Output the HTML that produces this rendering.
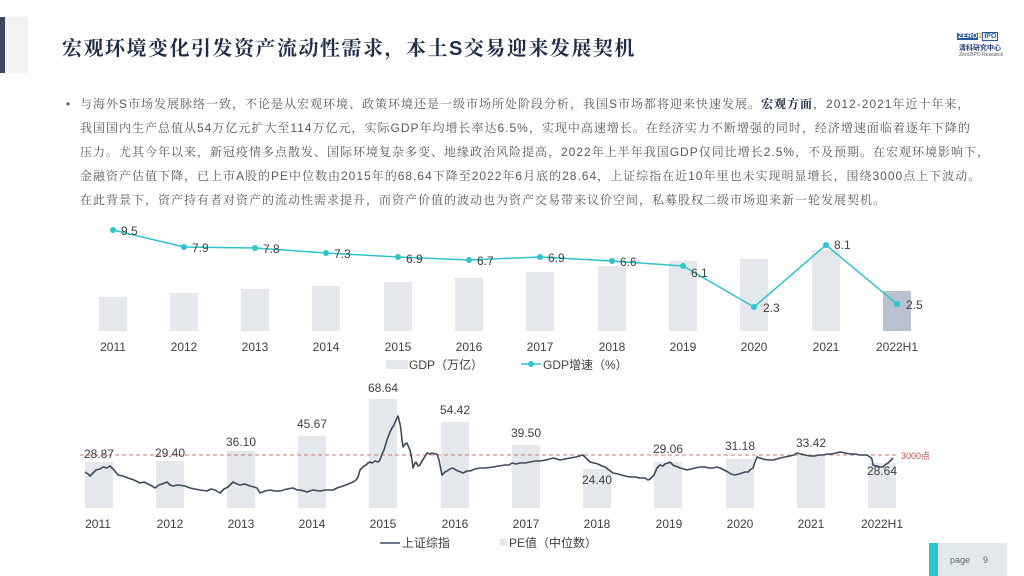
<!DOCTYPE html>
<html><head><meta charset="utf-8"><style>
body{margin:0;width:1024px;height:576px;background:#fff;position:relative;overflow:hidden;font-family:"Liberation Sans","Noto Sans CJK SC",sans-serif}
.t{position:absolute;white-space:nowrap}
.p{position:absolute;left:80px;font-size:12px;letter-spacing:1px;color:#595959;white-space:nowrap;font-family:"Liberation Sans","Noto Serif CJK SC",serif}
</style></head><body>
<div style="position:absolute;left:0;top:17px;width:28px;height:56px;background:#f2f2f2"></div>
<div style="position:absolute;left:0;top:17px;width:5px;height:56px;background:#3b4a5e"></div>
<div class="t" style="left:62px;top:32px;font-size:20px;letter-spacing:1.5px;font-weight:bold;color:#1f2d47;font-family:'Liberation Sans','Noto Serif CJK SC',serif">宏观环境变化引发资产流动性需求，本土S交易迎来发展契机</div>
<div class="t" style="left:957px;top:32px;font-size:7px;font-weight:bold;line-height:9px"><span style="background:#2c5aa0;color:#fff;padding:0 1px">ZERO</span><span style="color:#e8a000">2</span><span style="border:1px solid #2c5aa0;color:#2c5aa0;padding:0 1px">IPO</span></div>
<div class="t" style="left:959px;top:43px;font-size:7px;color:#1f3a7a;font-weight:bold">清科研究中心</div>
<div class="t" style="left:959px;top:52px;font-size:5px;color:#555">Zero2IPO Research</div>

<div class="t" style="left:66px;top:97px;font-size:12px;color:#595959">•</div>
<div class="p" style="top:95px">与海外S市场发展脉络一致，不论是从宏观环境、政策环境还是一级市场所处阶段分析，我国S市场都将迎来快速发展。<b style="color:#1f2d47">宏观方面</b>，2012-2021年近十年来，</div>
<div class="p" style="top:119px">我国国内生产总值从54万亿元扩大至114万亿元，实际GDP年均增长率达6.5%，实现中高速增长。在经济实力不断增强的同时，经济增速面临着逐年下降的</div>
<div class="p" style="top:143px">压力。尤其今年以来，新冠疫情多点散发、国际环境复杂多变、地缘政治风险提高，2022年上半年我国GDP仅同比增长2.5%，不及预期。在宏观环境影响下，</div>
<div class="p" style="top:167px">金融资产估值下降，已上市A股的PE中位数由2015年的68.64下降至2022年6月底的28.64，上证综指在近10年里也未实现明显增长，围绕3000点上下波动。</div>
<div class="p" style="top:191px">在此背景下，资产持有者对资产的流动性需求提升，而资产价值的波动也为资产交易带来议价空间，私募股权二级市场迎来新一轮发展契机。</div>

<svg width="1024" height="576" style="position:absolute;left:0;top:0" font-family="Liberation Sans, Noto Sans CJK SC, sans-serif">
<g fill="#e4e8ec">
<rect x="99" y="297" width="28" height="34"/><rect x="170" y="293" width="28" height="38"/><rect x="241" y="289" width="28" height="42"/><rect x="312" y="286" width="28" height="45"/><rect x="384" y="282" width="28" height="49"/><rect x="455" y="278" width="28" height="53"/><rect x="526" y="272" width="28" height="59"/><rect x="598" y="266" width="28" height="65"/><rect x="669" y="261" width="28" height="70"/><rect x="740" y="259" width="28" height="72"/><rect x="812" y="250" width="28" height="81"/>
</g>
<rect x="883" y="291" width="28" height="40" fill="#b8c1cf"/>
<polyline fill="none" stroke="#2ec4cc" stroke-width="1.5" points="113,230 184,247 255,248 326,253 398,257 469,260 540,257 612,261 683,266 754,307 826,245 897,304"/>
<g fill="#2ec4cc"><circle cx="113" cy="230" r="3"/><circle cx="184" cy="247" r="3"/><circle cx="255" cy="248" r="3"/><circle cx="326" cy="253" r="3"/><circle cx="398" cy="257" r="3"/><circle cx="469" cy="260" r="3"/><circle cx="540" cy="257" r="3"/><circle cx="612" cy="261" r="3"/><circle cx="683" cy="266" r="3"/><circle cx="754" cy="307" r="3"/><circle cx="826" cy="245" r="3"/><circle cx="897" cy="304" r="3"/></g>
<g font-size="12" fill="#404040">
<text x="121" y="235">9.5</text><text x="192" y="252">7.9</text><text x="263" y="253">7.8</text><text x="334" y="258">7.3</text><text x="406" y="263">6.9</text><text x="477" y="265">6.7</text><text x="548" y="262">6.9</text><text x="620" y="266">6.6</text><text x="691" y="277">6.1</text><text x="763" y="312">2.3</text><text x="834" y="249">8.1</text><text x="906" y="309">2.5</text>
</g>
<g font-size="12" fill="#404040" text-anchor="middle">
<text x="113" y="351">2011</text><text x="184" y="351">2012</text><text x="255" y="351">2013</text><text x="326" y="351">2014</text><text x="398" y="351">2015</text><text x="469" y="351">2016</text><text x="540" y="351">2017</text><text x="612" y="351">2018</text><text x="683" y="351">2019</text><text x="754" y="351">2020</text><text x="826" y="351">2021</text><text x="897" y="351">2022H1</text>
</g>
<rect x="386" y="360" width="22" height="9" fill="#e4e8ec"/>
<text x="409" y="369" font-size="12" fill="#404040">GDP（万亿）</text>
<line x1="521" y1="364" x2="541" y2="364" stroke="#2ec4cc" stroke-width="1.5"/><circle cx="531" cy="364" r="3" fill="#2ec4cc"/>
<text x="543" y="369" font-size="12" fill="#404040">GDP增速（%）</text>

<g fill="#e4e8ec">
<rect x="85" y="462" width="28" height="46"/><rect x="156" y="461" width="28" height="47"/><rect x="227" y="451" width="28" height="57"/><rect x="298" y="436" width="28" height="72"/><rect x="369" y="399" width="28" height="109"/><rect x="441" y="422" width="28" height="86"/><rect x="512" y="445" width="28" height="63"/><rect x="583" y="469" width="28" height="39"/><rect x="654" y="462" width="28" height="46"/><rect x="726" y="459" width="28" height="49"/><rect x="797" y="455" width="28" height="53"/><rect x="868" y="463" width="28" height="45"/>
</g>
<line x1="80" y1="455" x2="897" y2="455" stroke="#c0504d" stroke-width="0.8" stroke-dasharray="4,3"/>
<text x="901" y="459" font-size="9" fill="#c0504d">3000点</text>
<polyline fill="none" stroke="#3d4a5c" stroke-width="1.6" stroke-linejoin="round" points="85,472 88,474 90,476 93,473 96,470 100,469 103,467 107,468 110,466 114,470 118,475 123,476 128,478 134,480 140,483 144,482 148,484 152,486 155,488 159,485 162,484 167,482 170,485 173,486 178,485 185,486 190,488 195,489 200,490 207,491 211,489 215,490 220,493 224,489 228,487 233,482 237,484 240,485 245,484 250,486 254,487 257,488 260,493 265,491 270,490 275,491 280,491 287,489 293,488 297,490 300,490 304,491 307,492 313,490 320,491 326,490 333,490 337,488 340,487 346,485 353,482 356,480 358,477 360,470 362,468 364,466 366,465 368,463 370,462 372,463 375,461 378,462 380,460 382,454 384,450 387,440 390,432 392,428 394,425 396,420 398,416 400,424 401,430 402,440 403,447 405,444 407,443 409,448 410,450 412,460 413,468 415,463 416,462 418,466 420,465 422,461 424,458 427,453 430,454 432,453 435,454 437,454 439,460 440,465 441,470 442,475 445,472 447,471 450,469 453,468 456,470 458,471 461,472 463,473 467,471 470,471 475,469 480,468 486,468 493,467 499,466 505,465 509,465 512,463 516,464 520,463 525,463 530,462 535,461 540,461 546,460 553,458 557,459 560,460 565,459 570,458 576,457 583,455 585,457 587,459 590,462 594,463 598,464 602,466 605,467 609,470 613,473 618,474 625,476 630,477 635,477 640,478 645,478 648,480 650,479 652,477 654,475 657,468 660,465 663,466 665,464 668,463 670,462 673,465 675,466 678,467 680,468 684,469 687,470 691,469 695,468 700,467 705,467 709,468 713,468 717,467 720,468 724,470 728,472 731,474 735,475 739,474 742,473 745,472 748,472 750,470 753,468 755,462 757,457 760,458 763,459 768,460 773,460 777,459 780,458 785,457 790,456 794,455 797,453 801,454 805,455 810,456 815,456 819,455 823,455 828,454 832,454 836,453 840,452 845,453 850,454 855,454 860,455 864,455 867,455 870,457 872,459 873,465 875,466 877,466 880,467 883,467 885,465 888,463 891,460 893,458"/>
<g font-size="12" fill="#404040" text-anchor="middle">
<text x="99" y="458">28.87</text><text x="170" y="457">29.40</text><text x="241" y="446">36.10</text><text x="312" y="428">45.67</text><text x="383" y="392">68.64</text><text x="455" y="414">54.42</text><text x="526" y="437">39.50</text><text x="597" y="484">24.40</text><text x="668" y="453">29.06</text><text x="740" y="450">31.18</text><text x="811" y="447">33.42</text><text x="882" y="475">28.64</text>
</g>
<g font-size="12" fill="#404040" text-anchor="middle">
<text x="98" y="528">2011</text><text x="170" y="528">2012</text><text x="241" y="528">2013</text><text x="312" y="528">2014</text><text x="383" y="528">2015</text><text x="455" y="528">2016</text><text x="526" y="528">2017</text><text x="597" y="528">2018</text><text x="669" y="528">2019</text><text x="740" y="528">2020</text><text x="811" y="528">2021</text><text x="882" y="528">2022H1</text>
</g>
<line x1="380" y1="543" x2="400" y2="543" stroke="#3d4a5c" stroke-width="1.6"/>
<text x="402" y="547" font-size="12" fill="#404040">上证综指</text>
<rect x="500" y="539" width="7" height="7" fill="#e4e8ec"/>
<text x="509" y="547" font-size="12" fill="#404040">PE值（中位数）</text>
<rect x="929" y="543" width="9" height="33" fill="#2ec4cc"/>
<rect x="938" y="543" width="69" height="33" fill="#e4e8ec"/>
<text x="950" y="563" font-size="9" fill="#666">page</text><text x="983" y="563" font-size="9" fill="#666">9</text>
</svg>
</body></html>
